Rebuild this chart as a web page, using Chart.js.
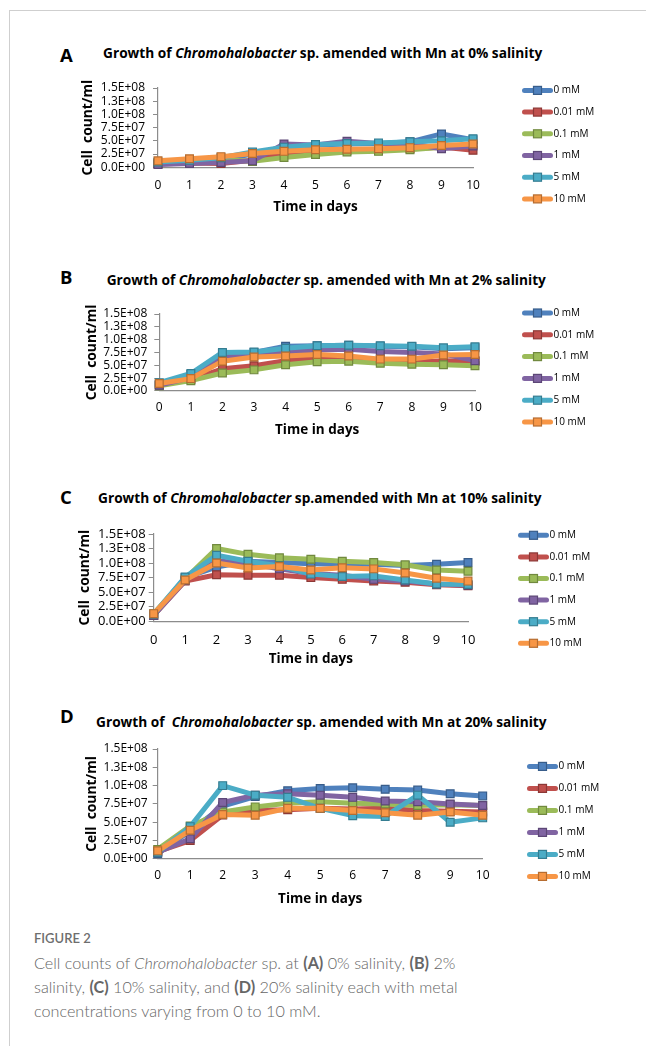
<!DOCTYPE html>
<html><head><meta charset="utf-8">
<script src="https://cdn.jsdelivr.net/npm/chart.js@4.4.0/dist/chart.umd.min.js"></script>
<style>
html,body{margin:0;padding:0;background:#fff;}
body{width:646px;height:1046px;position:relative;overflow:hidden;font-family:Lato,'Open Sans',sans-serif;}
.frameTop{position:absolute;left:9px;top:10px;width:637px;height:1px;background:#cfcfcf;}
.frameLeft{position:absolute;left:9px;top:10px;width:1px;height:1036px;background:#cfcfcf;}
.letter{position:absolute;font-family:'Open Sans',sans-serif;font-weight:700;font-size:18.5px;line-height:18px;color:#000;}
.ptitle{position:absolute;font-family:'Open Sans',sans-serif;font-weight:700;font-size:13.7px;line-height:14px;white-space:pre;color:#000;}
canvas{position:absolute;}
.figlabel{position:absolute;left:34px;top:930px;font-size:13px;line-height:16px;color:#6e6e6e;font-weight:600;}
.caption{position:absolute;left:34px;top:951px;font-size:16.2px;line-height:24px;color:#666;font-weight:300;white-space:nowrap;}
.caption b{font-weight:700;}
</style>
</head><body>
<div class="frameTop"></div><div class="frameLeft"></div>
<div id="root"></div>
<div class="figlabel">FIGURE 2</div>
<div class="caption">Cell counts of <i>Chromohalobacter</i> sp. at <b>(A)</b> 0% salinity, <b>(B)</b> 2%<br>salinity, <b>(C)</b> 10% salinity, and <b>(D)</b> 20% salinity each with metal<br>concentrations varying from 0 to 10 mM.</div>
<script>
// ---- data ----
const days = ['0','1','2','3','4','5','6','7','8','9','10'];
const concentrations = ['0 mM','0.01 mM','0.1 mM','1 mM','5 mM','10 mM'];
const yTickLabels = ['0.0E+00','2.5E+07','5.0E+07','7.5E+07','1.0E+08','1.3E+08','1.5E+08'];
const xTitle = 'Time in days';
const yTitle = 'Cell  count/ml';

// Panel A: 0% salinity
const a_0mM   = [0.8e7, 1.0e7, 1.4e7, 2.5e7, 3.8e7, 4.2e7, 4.4e7, 4.5e7, 4.8e7, 6.3e7, 5.2e7];
const a_001mM = [0.6e7, 0.8e7, 0.7e7, 1.3e7, 2.6e7, 2.9e7, 3.2e7, 3.3e7, 3.5e7, 3.8e7, 3.2e7];
const a_01mM  = [0.8e7, 1.1e7, 1.5e7, 1.1e7, 1.85e7, 2.4e7, 2.9e7, 3.0e7, 3.3e7, 3.8e7, 4.2e7];
const a_1mM   = [0.5e7, 0.7e7, 0.9e7, 1.2e7, 4.4e7, 4.2e7, 4.9e7, 4.5e7, 4.5e7, 3.5e7, 4.0e7];
const a_5mM   = [1.0e7, 1.3e7, 1.8e7, 2.9e7, 3.8e7, 4.3e7, 4.5e7, 4.6e7, 4.8e7, 5.0e7, 5.4e7];
const a_10mM  = [1.2e7, 1.6e7, 2.0e7, 2.6e7, 3.0e7, 3.3e7, 3.4e7, 3.5e7, 3.7e7, 4.1e7, 4.4e7];

// Panel B: 2% salinity
const b_0mM   = [1.2e7, 3.2e7, 7.3e7, 7.5e7, 8.7e7, 8.8e7, 8.9e7, 8.7e7, 8.6e7, 8.2e7, 8.4e7];
const b_001mM = [1.2e7, 2.2e7, 4.3e7, 4.9e7, 5.9e7, 6.4e7, 6.3e7, 5.9e7, 5.6e7, 5.9e7, 5.8e7];
const b_01mM  = [1.0e7, 2.0e7, 3.5e7, 4.1e7, 5.1e7, 5.7e7, 5.8e7, 5.4e7, 5.2e7, 5.1e7, 4.9e7];
const b_1mM   = [1.1e7, 2.6e7, 6.6e7, 7.0e7, 7.6e7, 8.0e7, 8.1e7, 7.7e7, 7.5e7, 7.2e7, 5.9e7];
const b_5mM   = [1.6e7, 3.4e7, 7.5e7, 7.6e7, 8.3e7, 8.8e7, 8.9e7, 8.8e7, 8.7e7, 8.4e7, 8.6e7];
const b_10mM  = [1.45e7, 2.4e7, 5.8e7, 6.6e7, 6.8e7, 7.1e7, 6.8e7, 6.2e7, 6.2e7, 7.0e7, 7.1e7];

// Panel C: 10% salinity
const c_0mM   = [1.0e7, 7.5e7, 9.3e7, 10.3e7, 10.1e7, 9.9e7, 9.8e7, 9.8e7, 9.6e7, 9.8e7, 10.1e7];
const c_001mM = [1.0e7, 6.9e7, 8.0e7, 7.9e7, 7.9e7, 7.5e7, 7.2e7, 6.9e7, 6.7e7, 6.25e7, 6.1e7];
const c_01mM  = [1.3e7, 7.3e7, 12.5e7, 11.5e7, 10.9e7, 10.65e7, 10.3e7, 10.1e7, 9.7e7, 8.8e7, 8.6e7];
const c_1mM   = [1.0e7, 7.0e7, 10.4e7, 9.9e7, 9.0e7, 8.2e7, 7.9e7, 7.2e7, 6.9e7, 6.4e7, 6.2e7];
const c_5mM   = [1.2e7, 7.6e7, 11.35e7, 10.3e7, 9.5e7, 8.1e7, 7.7e7, 7.8e7, 7.1e7, 6.4e7, 6.3e7];
const c_10mM  = [1.3e7, 7.1e7, 10.0e7, 9.15e7, 9.4e7, 8.8e7, 9.2e7, 9.0e7, 8.3e7, 7.4e7, 6.9e7];

// Panel D: 20% salinity
const d_0mM   = [0.7e7, 3.8e7, 7.2e7, 8.5e7, 9.3e7, 9.6e7, 9.7e7, 9.5e7, 9.4e7, 8.9e7, 8.6e7];
const d_001mM = [1.0e7, 2.5e7, 6.0e7, 6.65e7, 6.7e7, 6.9e7, 6.8e7, 6.9e7, 6.6e7, 6.5e7, 6.4e7];
const d_01mM  = [1.3e7, 4.5e7, 6.4e7, 7.1e7, 7.6e7, 7.8e7, 7.6e7, 7.5e7, 7.3e7, 7.4e7, 7.3e7];
const d_1mM   = [0.9e7, 2.75e7, 7.7e7, 8.7e7, 8.9e7, 8.7e7, 8.4e7, 7.9e7, 7.8e7, 7.5e7, 7.3e7];
const d_5mM   = [0.9e7, 4.4e7, 10.0e7, 8.7e7, 8.4e7, 6.9e7, 5.9e7, 5.8e7, 8.7e7, 5.0e7, 5.6e7];
const d_10mM  = [1.1e7, 3.9e7, 6.05e7, 5.95e7, 6.9e7, 6.9e7, 6.6e7, 6.3e7, 5.95e7, 6.4e7, 5.95e7];

const titleA = ['Growth of ', 'Chromohalobacter', ' sp. amended with Mn at 0% salinity'];
const titleB = ['Growth of ', 'Chromohalobacter', ' sp. amended with Mn at 2% salinity'];
const titleC = ['Growth of ', 'Chromohalobacter', ' sp.amended with Mn at 10% salinity'];
const titleD = ['Growth of  ', 'Chromohalobacter', ' sp. amended with Mn at 20% salinity'];

// ---- styles ----
const colors  = ['#4F81BD','#C0504D','#9BBB59','#8064A2','#4BACC6','#F79646'];
const markerB = ['#385D8A','#8C3836','#71893F','#5C4776','#357D91','#B66D31'];
const FONT = "'Open Sans', Lato, sans-serif";

const panels = [
  {letter:'A', title:titleA, series:[a_0mM,a_001mM,a_01mM,a_1mM,a_5mM,a_10mM],
   L:158, R:473, T:88.3, B:167, yTitleX:88, xLabY:185.7, xTitleY:206.7, letterY:55, titleY:53, titleX:103,
   legX:522, legY:90.7, legDy:21.7, tickSize:12, yTickPad:8},
  {letter:'B', title:titleB, series:[b_0mM,b_001mM,b_01mM,b_1mM,b_5mM,b_10mM],
   L:159.3, R:475, T:314, B:390, yTitleX:91.7, xLabY:406.7, xTitleY:429, letterY:277, titleY:280, titleX:106.7,
   legX:522, legY:313, legDy:21.8, tickSize:12, yTickPad:7},
  {letter:'C', title:titleC, series:[c_0mM,c_001mM,c_01mM,c_1mM,c_5mM,c_10mM],
   L:153.7, R:468, T:533.7, B:620, yTitleX:85, xLabY:639, xTitleY:657.7, letterY:497, titleY:498.3, titleX:98,
   legX:518, legY:535, legDy:21.6, tickSize:13, yTickPad:3},
  {letter:'D', title:titleD, series:[d_0mM,d_001mM,d_01mM,d_1mM,d_5mM,d_10mM],
   L:157.7, R:482.7, T:749.3, B:858.3, yTitleX:91.7, xLabY:875, xTitleY:898.3, letterY:716, titleY:721.7, titleX:96,
   legX:527, legY:766.7, legDy:22, tickSize:12, yTickPad:5}
];

const root = document.getElementById('root');

function sideLegend(p, cl, ct){
  return {id:'sideLegend', afterDraw(chart){
    const ctx = chart.ctx; ctx.save();
    chart.data.datasets.forEach((ds,i)=>{
      const y = p.legY + i*p.legDy - ct;
      const x0 = p.legX - cl, x1 = x0 + 31;
      ctx.strokeStyle = ds.borderColor; ctx.lineWidth = 5; ctx.lineCap = 'round';
      ctx.beginPath(); ctx.moveTo(x0+2.5, y); ctx.lineTo(x1-2.5, y); ctx.stroke();
      const xm = (x0+x1)/2;
      ctx.fillStyle = ds.pointBackgroundColor; ctx.strokeStyle = ds.pointBorderColor; ctx.lineWidth = 1.2;
      ctx.fillRect(xm-4, y-4, 8, 8); ctx.strokeRect(xm-4, y-4, 8, 8);
      ctx.fillStyle = '#000'; ctx.font = '10px ' + FONT; ctx.textBaseline = 'middle'; ctx.textAlign = 'left';
      ctx.fillText(ds.label, x1 + 0.5, y);
    });
    ctx.restore();
  }};
}

function makePanel(p){
  const L = document.createElement('div'); L.className='letter'; L.textContent=p.letter;
  L.style.left='60px'; L.style.top=(p.letterY-9)+'px'; root.appendChild(L);
  const T = document.createElement('div'); T.className='ptitle';
  T.innerHTML = p.title[0] + '<i>' + p.title[1] + '</i>' + p.title[2];
  T.style.left=p.titleX+'px'; T.style.top=(p.titleY-7)+'px'; root.appendChild(T);

  const padTop = 22, cl = 60, ct = p.T - padTop;
  const xAxisH = p.xTitleY - p.B + 8.1;
  const cw = 646 - cl, ch = Math.ceil(padTop + (p.B - p.T) + xAxisH);
  const cv = document.createElement('canvas');
  cv.width = cw; cv.height = ch; cv.style.width = cw+'px'; cv.style.height = ch+'px';
  cv.style.left = cl+'px'; cv.style.top = ct+'px'; root.appendChild(cv);

  const axisCol = '#8c8c8c';
  new Chart(cv.getContext('2d'), {
    type:'line',
    data:{labels:days, datasets:p.series.map((vals,i)=>({
      label:concentrations[i], data:vals, borderColor:colors[i], backgroundColor:colors[i],
      pointBackgroundColor:colors[i], pointBorderColor:markerB[i], pointStyle:'rect',
      pointRadius:5.5, pointBorderWidth:1.2, borderWidth:5, tension:0, order:5-i, clip:false,
      borderJoinStyle:'round', borderCapStyle:'round'}))},
    options:{
      responsive:false, animation:false, events:[], devicePixelRatio:1,
      layout:{padding:{top:padTop, left:0, right:646 - p.R, bottom:0}},
      plugins:{legend:{display:false}, tooltip:{enabled:false}, title:{display:false}},
      scales:{
        x:{type:'category', offset:false,
           grid:{display:true, drawOnChartArea:false, drawTicks:false},
           border:{display:true, color:axisCol, width:1.2},
           ticks:{font:{family:FONT, size:p.tickSize}, color:'#000', padding: p.xLabY - p.B - p.tickSize*0.6, maxRotation:0, autoSkip:false},
           title:{display:true, text:xTitle, font:{family:FONT, size:13.5, weight:'bold'}, color:'#000', padding:0},
           afterFit:s=>{s.height = xAxisH;}},
        y:{min:0, max:1.5e8,
           ticks:{stepSize:2.5e7, autoSkip:false, callback:(v)=>yTickLabels[Math.round(v/2.5e7)], font:{family:FONT, size:p.tickSize, lineHeight:1}, color:'#000', padding:p.yTickPad},
           grid:{drawOnChartArea:false, drawTicks:true, tickLength:5, color:axisCol},
           border:{display:true, color:axisCol, width:1.2},
           title:{display:true, text:yTitle, font:{family:FONT, size:13.8, weight:'bold'}, color:'#000', padding:{top:p.yTitleX - cl - 8.3, bottom:0}},
           afterFit:s=>{s.width = p.L - cl;}}
      }
    },
    plugins:[sideLegend(p, cl, ct)]
  });
}
panels.forEach(makePanel);
</script>
</body></html>
